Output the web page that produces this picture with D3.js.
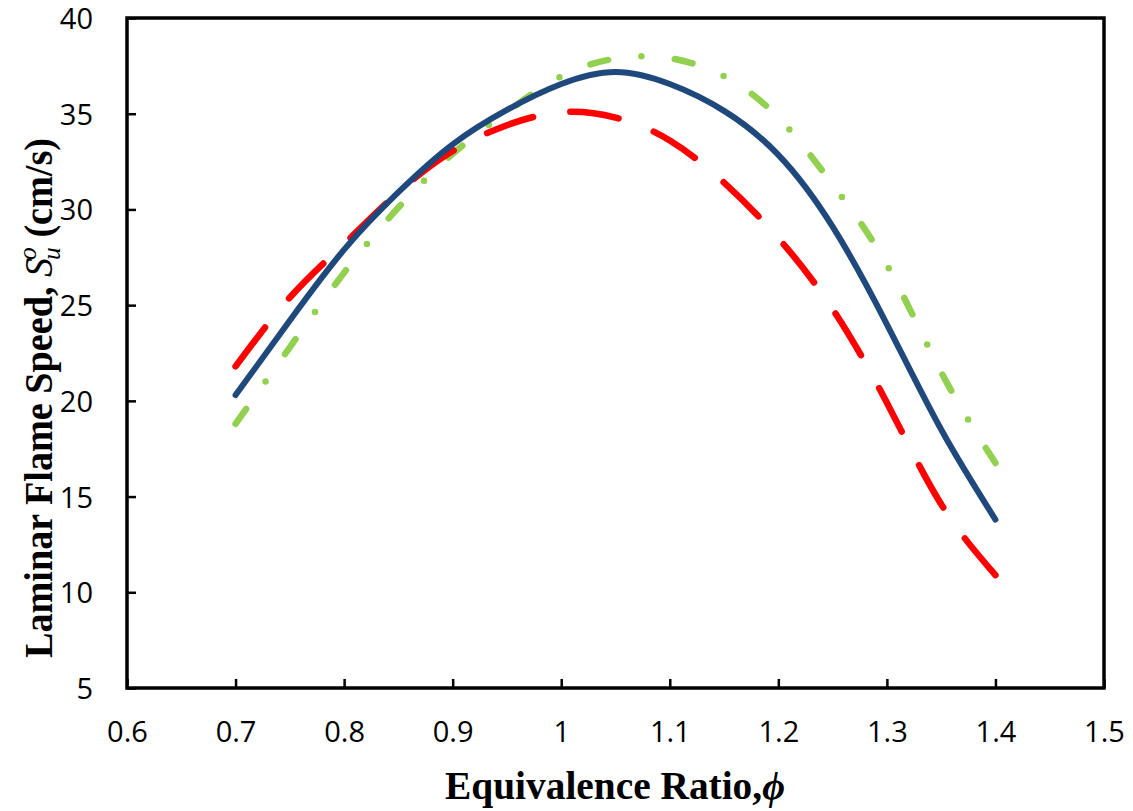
<!DOCTYPE html>
<html><head><meta charset="utf-8">
<script src="https://cdn.jsdelivr.net/npm/d3@7/dist/d3.min.js"></script>
<style>body{margin:0;background:#fff}</style></head>
<body><svg id="c" width="1133" height="811"></svg>
<script>
// Equivalence ratio sample points
const phi = [0.70,0.75,0.80,0.85,0.90,0.95,1.00,1.05,1.10,1.15,1.20,1.25,1.30,1.35,1.40];
// Solid dark-blue curve
const seriesSolid  = [20.3,24.2,27.9,30.9,33.4,35.2,36.55,37.18,36.55,35.15,32.85,29.1,24.0,18.5,13.8];
// Long-dashed red curve
const seriesDashed = [21.8,25.4,28.2,30.9,33.05,34.4,35.08,34.8,33.6,31.4,28.5,24.8,19.9,14.6,10.9];
// Dash-dot green curve
const seriesDashDot= [18.8,22.8,26.7,30.1,32.9,35.1,36.95,37.88,37.9,36.95,34.8,31.3,27.1,21.5,16.75];
const xTicks = [0.6,0.7,0.8,0.9,1.0,1.1,1.2,1.3,1.4,1.5];
const yTicks = [5,10,15,20,25,30,35,40];

const svg = d3.select("#c");
const L=127, R=1104, T=18, B=688;
const x = d3.scaleLinear().domain([0.6,1.5]).range([L,R]);
const y = d3.scaleLinear().domain([5,40]).range([B,T]);

// axes (ticks inward)
const xAxis = d3.axisBottom(x).tickValues(xTicks).tickSize(-9).tickPadding(0).tickFormat(d=>String(+d.toFixed(1)));
const yAxis = d3.axisLeft(y).tickValues(yTicks).tickSize(-9).tickPadding(0);
const gx = svg.append("g").attr("transform",`translate(0,${B})`).call(xAxis);
const gy = svg.append("g").attr("transform",`translate(${L},0)`).call(yAxis);
[gx,gy].forEach(g=>{
  g.select(".domain").remove();
  g.selectAll(".tick line").attr("stroke","#000").attr("stroke-width",2.5);
  g.selectAll(".tick text").attr("font-family","'Open Sans'").attr("font-size",29).attr("fill","#000");
});
gx.selectAll(".tick text").attr("y",54).attr("dy",null);
gy.selectAll(".tick text").attr("x",-34).attr("dy","0.36em");

// frame
svg.append("rect").attr("x",L).attr("y",T).attr("width",R-L).attr("height",B-T)
  .attr("fill","none").attr("stroke","#000").attr("stroke-width",3.5);

const line = d3.line().x((d,i)=>x(phi[i])).y(d=>y(d)).curve(d3.curveNatural);

// fit a dash pattern so the path starts and ends with a dash
function fitDash(path, pattern, lastDash){
  const len = path.node().getTotalLength();
  const P = pattern.reduce((a,b)=>a+b,0);
  const n = Math.max(1, Math.round((len - lastDash)/P));
  const k = (len - lastDash)/(n*P);
  path.attr("stroke-dasharray", pattern.map(v=>v*k).join(","));
}

const pG = svg.append("path").datum(seriesDashDot).attr("d",line).attr("fill","none")
  .attr("stroke","#92D050").attr("stroke-width",6.5).attr("stroke-linecap","round");
fitDash(pG,[18,33,0,33],18);
const pR = svg.append("path").datum(seriesDashed).attr("d",line).attr("fill","none")
  .attr("stroke","#FF0000").attr("stroke-width",6.5).attr("stroke-linecap","round");
fitDash(pR,[48,37],48);
svg.append("path").datum(seriesSolid).attr("d",line).attr("fill","none")
  .attr("stroke","#1F497D").attr("stroke-width",6).attr("stroke-linecap","round");

// x-axis title
const xt = svg.append("text").attr("x",615).attr("y",799).attr("text-anchor","middle")
  .attr("font-family","'Liberation Serif'").attr("font-weight","bold").attr("font-size",39).attr("fill","#000");
xt.append("tspan").text("Equivalence Ratio,");
xt.append("tspan").attr("font-style","italic").text("ϕ");
{
  const w = xt.node().getComputedTextLength();
  const target = 340;
  xt.attr("transform",`translate(615,0) scale(${target/w},1) translate(-615,0)`);
}

// y-axis title
const yg = svg.append("g").attr("transform","translate(52,398) rotate(-90)");
const yt = yg.append("text").attr("x",0).attr("y",0).attr("text-anchor","middle")
  .attr("font-family","'Liberation Serif'").attr("font-size",39).attr("fill","#000");
yt.append("tspan").attr("font-weight","bold").text("Laminar Flame Speed,   ");
yt.append("tspan").attr("font-style","italic").text("S");
yt.append("tspan").attr("font-style","italic").attr("font-size",26).attr("dy",8).attr("dx",-2).text("u");
yt.append("tspan").attr("font-style","italic").attr("font-size",26).attr("dy",-24).attr("dx",-13).text("o");
yt.append("tspan").attr("font-weight","bold").attr("dy",16).text("  (cm/s)");
{
  const w = yt.node().getComputedTextLength();
  const target = 535;
  yt.attr("transform",`scale(${target/w},1)`);
}
</script></body></html>
